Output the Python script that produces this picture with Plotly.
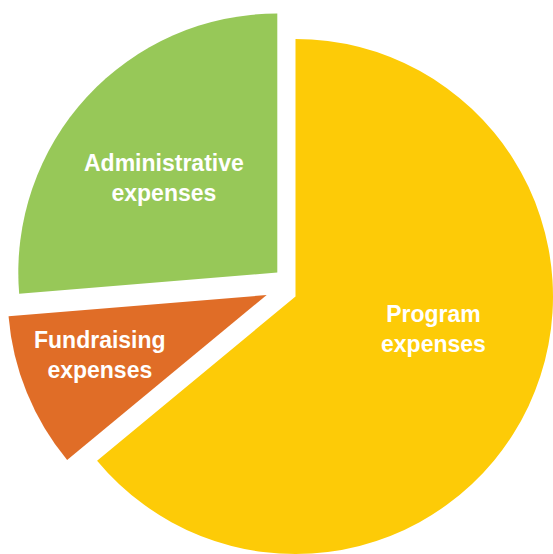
import plotly.graph_objects as go

# Data
categories = ["Program expenses", "Fundraising expenses", "Administrative expenses"]
label_text = ["Program<br>expenses", "Fundraising<br>expenses", "Administrative<br>expenses"]
shares = [64.0, 9.7, 26.3]
colors = ["#FDCB07", "#E06D27", "#97C858"]

W, H = 553, 554
# layout: each slice drawn as its own exploded pie (apex x, apex y, radius in px)
slice_pos = [(295.5, 296.5, 257.5), (266.7, 295.0, 259.0), (277.3, 272.5, 259.0)]
# layout: label centres in px
label_pos = [(433, 329), (100, 355), (164, 178)]

fig = go.Figure()
for k, (cx, cy, r) in enumerate(slice_pos):
    fig.add_trace(go.Pie(
        labels=categories,
        values=shares,
        textinfo="none",
        marker=dict(colors=[colors[i] if i == k else "rgba(0,0,0,0)" for i in range(len(categories))],
                    line=dict(width=0)),
        sort=False,
        direction="clockwise",
        rotation=0,
        showlegend=False,
        hoverinfo="skip",
        domain=dict(x=[(cx - r) / W, (cx + r) / W], y=[1 - (cy + r) / H, 1 - (cy - r) / H]),
    ))

for k, (lx, ly) in enumerate(label_pos):
    fig.add_annotation(
        text=label_text[k],
        x=lx / W, y=1 - ly / H, xref="paper", yref="paper",
        xanchor="center", yanchor="middle", showarrow=False, align="center",
        font=dict(family="Liberation Sans, Arial, sans-serif", size=23, color="white", weight="bold"),
    )

fig.update_layout(
    width=W, height=H,
    margin=dict(l=0, r=0, t=0, b=0),
    paper_bgcolor="white",
    plot_bgcolor="white",
    showlegend=False,
)

fig.write_html("out.html")
